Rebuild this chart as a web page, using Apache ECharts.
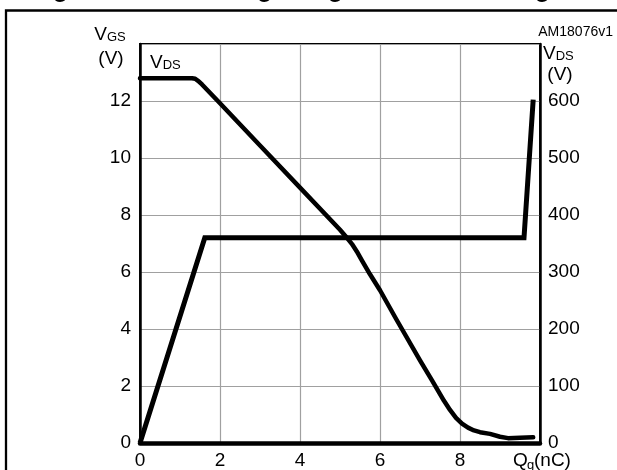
<!DOCTYPE html>
<html>
<head>
<meta charset="utf-8">
<script src="https://cdn.jsdelivr.net/npm/echarts@6/dist/echarts.min.js"></script>
<style>html,body{margin:0;padding:0;background:#fff}#c{width:617px;height:470px}</style>
</head>
<body>
<div id="c"></div>
<script>
// Qg (nC) vs VGS (V) — left axis
const vgsPoints = [[0, 0], [1.62, 7.2], [9.6, 7.2], [9.83, 12.05]];
// Qg (nC) vs VDS (V) — right axis
const vdsPoints = [[0, 640], [1.3, 640], [1.38, 639], [1.46, 635], [1.55, 629], [2, 596], [3, 522], [4, 448], [5, 374], [5.15, 362], [5.3, 349], [5.42, 336], [5.55, 320], [5.75, 296], [6, 268], [6.4, 218], [7.0, 145], [7.3, 110], [7.45, 92], [7.6, 74], [7.75, 58], [7.9, 44], [8.05, 34], [8.2, 27], [8.35, 22], [8.5, 19], [8.75, 16], [9.0, 11], [9.2, 8.5], [9.5, 9], [9.83, 10]];
const xTicks = [0, 2, 4, 6, 8];
const leftTicks = [0, 2, 4, 6, 8, 10, 12];
const rightTicks = [0, 100, 200, 300, 400, 500, 600];

const FF = "'Liberation Sans', Arial, Helvetica, sans-serif";
const chart = echarts.init(document.getElementById('c'));
chart.setOption({
  animation: false,
  backgroundColor: '#fff',
  grid: { left: 140, right: 77, top: 44, bottom: 27, show: true, borderColor: '#000', borderWidth: 2, containLabel: false },
  xAxis: {
    type: 'value', min: 0, max: 10, interval: 2,
    axisLine: { show: true, onZero: false, lineStyle: { color: '#000', width: 4.5 } },
    axisTick: { show: false },
    splitLine: { show: true, lineStyle: { color: '#a0a0a0', width: 1.2 } },
    axisLabel: { color: '#000', fontSize: 19, fontFamily: FF, margin: 8,
      formatter: v => xTicks.includes(v) ? String(v) : '' }
  },
  yAxis: [{
    type: 'value', min: 0, max: 14, interval: 2,
    axisLine: { show: true, lineStyle: { color: '#000', width: 2.5 } },
    axisTick: { show: false },
    splitLine: { show: true, lineStyle: { color: '#a0a0a0', width: 1.2 } },
    axisLabel: { color: '#000', fontSize: 19, fontFamily: FF, margin: 9,
      formatter: v => leftTicks.includes(v) ? String(v) : '' }
  }, {
    type: 'value', min: 0, max: 700, interval: 100, position: 'right',
    axisLine: { show: true, lineStyle: { color: '#000', width: 2.5 } },
    axisTick: { show: false },
    splitLine: { show: false },
    axisLabel: { color: '#000', fontSize: 19, fontFamily: FF, margin: 8,
      formatter: v => rightTicks.includes(v) ? String(v) : '' }
  }],
  series: [{
    type: 'line', data: vgsPoints, yAxisIndex: 0, showSymbol: false, symbol: 'none',
    lineStyle: { color: '#000', width: 5, join: 'miter' }, z: 3
  }, {
    type: 'line', data: vdsPoints, yAxisIndex: 1, showSymbol: false, symbol: 'none',
    smooth: false,
    lineStyle: { color: '#000', width: 4.5, join: 'round', cap: 'round' }, z: 3
  }],
  graphic: [
    { type: 'rect', shape: { x: 6, y: 10.5, width: 700, height: 600 }, style: { fill: 'none', stroke: '#000', lineWidth: 2.3 }, silent: true },
    { type: 'text', x: 30.5, y: -10, style: { text: 'Figure 6. Gate charge vs gate-source voltage', font: "bold 25px 'Liberation Sans', Arial", fill: '#000', verticalAlign: 'middle' } },
    { type: 'text', x: 110, y: 35, style: { text: '{a|V}{b|GS}', align: 'center', verticalAlign: 'middle', rich: { a: { fontSize: 19, fontFamily: FF, color: '#000' }, b: { fontSize: 13, fontFamily: FF, color: '#000', padding: [5, 0, 0, 0] } } } },
    { type: 'text', x: 111, y: 59, style: { text: '(V)', font: "19px 'Liberation Sans', Arial", fill: '#000', align: 'center', verticalAlign: 'middle' } },
    { type: 'text', x: 150, y: 63, style: { text: '{a|V}{b|DS}', align: 'left', verticalAlign: 'middle', rich: { a: { fontSize: 19, fontFamily: FF, color: '#000' }, b: { fontSize: 13, fontFamily: FF, color: '#000', padding: [5, 0, 0, 0] } } } },
    { type: 'text', x: 543, y: 54, style: { text: '{a|V}{b|DS}', align: 'left', verticalAlign: 'middle', rich: { a: { fontSize: 19, fontFamily: FF, color: '#000' }, b: { fontSize: 13, fontFamily: FF, color: '#000', padding: [5, 0, 0, 0] } } } },
    { type: 'text', x: 560, y: 75, style: { text: '(V)', font: "19px 'Liberation Sans', Arial", fill: '#000', align: 'center', verticalAlign: 'middle' } },
    { type: 'text', x: 613, y: 32, style: { text: 'AM18076v1', font: "14px 'Liberation Sans', Arial", fill: '#000', align: 'right', verticalAlign: 'middle' } },
    { type: 'text', x: 513, y: 461, style: { text: 'Q', font: "19px 'Liberation Sans', Arial", fill: '#000', align: 'left', verticalAlign: 'middle' } },
    { type: 'text', x: 527, y: 465, style: { text: 'g', font: "13px 'Liberation Sans', Arial", fill: '#000', align: 'left', verticalAlign: 'middle' } },
    { type: 'text', x: 534, y: 461, style: { text: '(nC)', font: "19px 'Liberation Sans', Arial", fill: '#000', align: 'left', verticalAlign: 'middle' } }
  ]
});
</script>
</body>
</html>
